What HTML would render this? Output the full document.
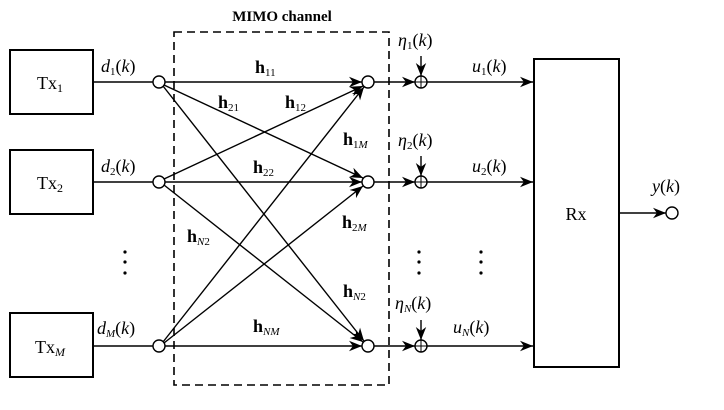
<!DOCTYPE html><html><head><style>body{margin:0;background:#fff}svg text{font-family:"Liberation Serif",serif}</style></head><body>
<svg width="724" height="405" viewBox="0 0 724 405" xmlns="http://www.w3.org/2000/svg">
<defs><marker id="a" viewBox="0 0 10 10" refX="10" refY="5" markerWidth="9" markerHeight="9" markerUnits="userSpaceOnUse" orient="auto"><path d="M0,1 L10,5 L0,9 L3,5z" fill="#000"/></marker>
<marker id="b" viewBox="0 0 10 10" refX="10" refY="5" markerWidth="13" markerHeight="13" markerUnits="userSpaceOnUse" orient="auto"><path d="M0,1 L10,5 L0,9 L3,5z" fill="#000"/></marker></defs>
<g fill="none" stroke="#000" stroke-width="1.4">
<rect x="10" y="50" width="83" height="64" stroke-width="2"/>
<rect x="10" y="150" width="83" height="64" stroke-width="2"/>
<rect x="10" y="313" width="83" height="64" stroke-width="2"/>
<rect x="174" y="32" width="215" height="353" stroke-dasharray="8,5" stroke-width="1.6"/>
<rect x="534" y="59" width="85" height="308" stroke-width="2"/>
<line x1="93" y1="82" x2="153" y2="82"/><line x1="93" y1="182" x2="153" y2="182"/><line x1="93" y1="346" x2="153" y2="346"/>
<g marker-end="url(#b)">
<line x1="165" y1="82" x2="362" y2="82"/><line x1="164" y1="85" x2="363" y2="178"/><line x1="163" y1="86" x2="364" y2="341"/>
<line x1="164" y1="179" x2="363" y2="86"/><line x1="165" y1="182" x2="362" y2="182"/><line x1="164" y1="185" x2="363" y2="342"/>
<line x1="163" y1="342" x2="364" y2="87"/><line x1="164" y1="343" x2="363" y2="186"/><line x1="165" y1="346" x2="362" y2="346"/>
<line x1="374" y1="82" x2="415" y2="82"/><line x1="374" y1="182" x2="415" y2="182"/><line x1="374" y1="346" x2="415" y2="346"/>
<line x1="427" y1="82" x2="533" y2="82"/><line x1="427" y1="182" x2="533" y2="182"/><line x1="427" y1="346" x2="533" y2="346"/>
<line x1="421" y1="56" x2="421" y2="76"/><line x1="421" y1="156" x2="421" y2="176"/><line x1="421" y1="320" x2="421" y2="340"/>
<line x1="619" y1="213" x2="666" y2="213"/>
</g>
<g fill="#fff"><circle cx="159" cy="82" r="6"/><circle cx="159" cy="182" r="6"/><circle cx="159" cy="346" r="6"/>
<circle cx="368" cy="82" r="6"/><circle cx="368" cy="182" r="6"/><circle cx="368" cy="346" r="6"/>
<circle cx="421" cy="82" r="6"/><circle cx="421" cy="182" r="6"/><circle cx="421" cy="346" r="6"/><circle cx="672" cy="213" r="6"/></g>
<path d="M415,82h12M421,76v12M415,182h12M421,176v12M415,346h12M421,340v12" stroke-width="1"/>
</g>
<g fill="#000"><circle cx="125" cy="252" r="1.6"/><circle cx="125" cy="262" r="1.6"/><circle cx="125" cy="273" r="1.6"/>
<circle cx="419" cy="252" r="1.6"/><circle cx="419" cy="262" r="1.6"/><circle cx="419" cy="273" r="1.6"/>
<circle cx="481" cy="252" r="1.6"/><circle cx="481" cy="262" r="1.6"/><circle cx="481" cy="273" r="1.6"/></g>
<g font-size="18" text-anchor="middle">
<text x="282" y="21" font-weight="bold" font-size="15">MIMO channel</text>
<text x="50" y="89">Tx<tspan font-size="12" dy="3">1</tspan></text>
<text x="50" y="189">Tx<tspan font-size="12" dy="3">2</tspan></text>
<text x="50" y="353">Tx<tspan font-size="12" dy="3"><tspan font-style="italic">M</tspan></tspan></text>
<text x="576" y="220">Rx</text>
</g>
<g font-size="18" font-style="italic">
<text x="101" y="72">d<tspan font-size="11" dy="3" font-style="normal">1</tspan><tspan dy="-3" font-style="normal">(</tspan>k<tspan font-style="normal">)</tspan></text>
<text x="101" y="172">d<tspan font-size="11" dy="3" font-style="normal">2</tspan><tspan dy="-3" font-style="normal">(</tspan>k<tspan font-style="normal">)</tspan></text>
<text x="97" y="334">d<tspan font-size="11" dy="3">M</tspan><tspan dy="-3" font-style="normal">(</tspan>k<tspan font-style="normal">)</tspan></text>
<text x="398" y="46">η<tspan font-size="11" dy="3" font-style="normal">1</tspan><tspan dy="-3" font-style="normal">(</tspan>k<tspan font-style="normal">)</tspan></text>
<text x="398" y="146">η<tspan font-size="11" dy="3" font-style="normal">2</tspan><tspan dy="-3" font-style="normal">(</tspan>k<tspan font-style="normal">)</tspan></text>
<text x="395" y="309">η<tspan font-size="11" dy="3">N</tspan><tspan dy="-3" font-style="normal">(</tspan>k<tspan font-style="normal">)</tspan></text>
<text x="472" y="72">u<tspan font-size="11" dy="3" font-style="normal">1</tspan><tspan dy="-3" font-style="normal">(</tspan>k<tspan font-style="normal">)</tspan></text>
<text x="472" y="172">u<tspan font-size="11" dy="3" font-style="normal">2</tspan><tspan dy="-3" font-style="normal">(</tspan>k<tspan font-style="normal">)</tspan></text>
<text x="453" y="333">u<tspan font-size="11" dy="3">N</tspan><tspan dy="-3" font-style="normal">(</tspan>k<tspan font-style="normal">)</tspan></text>
<text x="652" y="192">y<tspan font-style="normal">(</tspan>k<tspan font-style="normal">)</tspan></text>
</g>
<g font-size="18" font-weight="bold">
<text x="255" y="73">h<tspan font-size="11" font-weight="normal" dy="3">11</tspan></text>
<text x="218" y="108">h<tspan font-size="11" font-weight="normal" dy="3">21</tspan></text>
<text x="285" y="108">h<tspan font-size="11" font-weight="normal" dy="3">12</tspan></text>
<text x="343" y="145">h<tspan font-size="11" font-weight="normal" dy="3">1<tspan font-style="italic">M</tspan></tspan></text>
<text x="253" y="173">h<tspan font-size="11" font-weight="normal" dy="3">22</tspan></text>
<text x="342" y="228">h<tspan font-size="11" font-weight="normal" dy="3">2<tspan font-style="italic">M</tspan></tspan></text>
<text x="187" y="242">h<tspan font-size="11" font-weight="normal" dy="3"><tspan font-style="italic">N</tspan>2</tspan></text>
<text x="343" y="297">h<tspan font-size="11" font-weight="normal" dy="3"><tspan font-style="italic">N</tspan>2</tspan></text>
<text x="253" y="332">h<tspan font-size="11" font-weight="normal" dy="3" font-style="italic">NM</tspan></text>
</g>
</svg></body></html>
